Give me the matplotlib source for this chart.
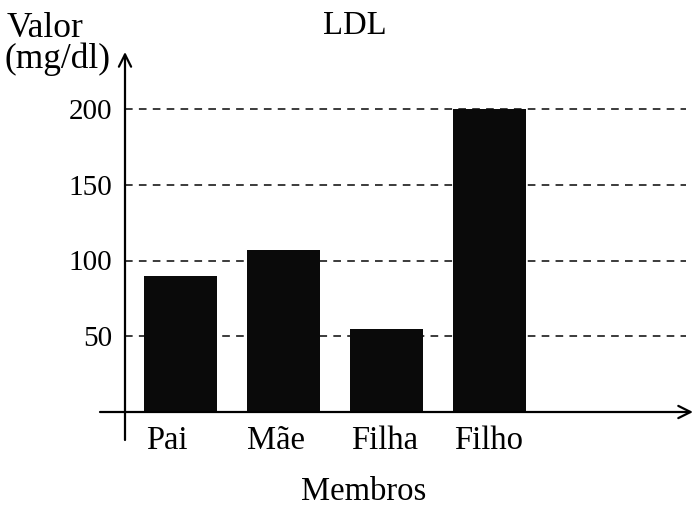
import matplotlib
matplotlib.use("Agg")
import matplotlib.pyplot as plt

categories = ["Pai", "Mãe", "Filha", "Filho"]
values = [90, 107, 55, 200]
yticks = [50, 100, 150, 200]
title = "LDL"
ylabel_lines = ["Valor", "(mg/dl)"]
xlabel = "Membros"

plt.rcParams["font.family"] = ["Liberation Serif", "DejaVu Serif"]
plt.rcParams["lines.scale_dashes"] = False

W, H = 694, 507
fig = plt.figure(figsize=(W / 100, H / 100), dpi=100)

# axes placement (pixels)
ax_left_px, ax_right_px = 125, 693
ax_bottom_px, ax_top_px = 412, 52
px_per_unit = 1.515
ax = fig.add_axes([ax_left_px / W, 1 - ax_bottom_px / H,
                   (ax_right_px - ax_left_px) / W, (ax_bottom_px - ax_top_px) / H])

px_per_cat = 103.0
first_center_px = 180.5
x0 = (ax_left_px - first_center_px) / px_per_cat
x1 = (ax_right_px - first_center_px) / px_per_cat
ymax = (ax_bottom_px - ax_top_px) / px_per_unit
ax.set_xlim(x0, x1)
ax.set_ylim(0, ymax)

pos = list(range(len(categories)))
ax.bar(pos, values, width=0.71, color="#0a0a0a", zorder=3)

# dashed gridlines
grid_end = (686 - first_center_px) / px_per_cat
ax.hlines(yticks, x0, grid_end, colors="#1a1a1a", linewidth=1.2,
          linestyles=(0, (5.5, 4.5)), zorder=1)

for s in ax.spines.values():
    s.set_visible(False)

ax.set_yticks(yticks)
ax.set_yticklabels([str(t) for t in yticks], fontsize=21)
ax.tick_params(axis="y", length=0, pad=9)

# labels in the original sit slightly left of the bar centres
label_shift = [-0.13, -0.07, -0.02, -0.01]
ax.set_xticks([p + s for p, s in zip(pos, label_shift)])
ax.set_xticklabels(categories, fontsize=23.5)
ax.tick_params(axis="x", length=0, pad=9.5)

# axis lines with arrows
ybot = -(440 - ax_bottom_px) / px_per_unit
ax.annotate("", xy=(x0, ymax), xytext=(x0, ybot), xycoords="data",
            arrowprops=dict(arrowstyle="->", lw=1.6, color="black",
                            mutation_scale=22, shrinkA=0, shrinkB=0),
            annotation_clip=False, zorder=5)
xleft = (100 - first_center_px) / px_per_cat
ax.annotate("", xy=(x1, 0), xytext=(xleft, 0), xycoords="data",
            arrowprops=dict(arrowstyle="->", lw=1.6, color="black",
                            mutation_scale=22, shrinkA=0, shrinkB=0),
            annotation_clip=False, zorder=5)

# texts
fig.text(355 / W, 1 - 34 / H, title, fontsize=23.5, ha="center", va="baseline")
fig.text(7 / W, 1 - 37 / H, ylabel_lines[0], fontsize=25.5, ha="left", va="baseline")
fig.text(4 / W, 1 - 68 / H, ylabel_lines[1], fontsize=25.5, ha="left", va="baseline")
fig.text(364 / W, 1 - 500 / H, xlabel, fontsize=23.5, ha="center", va="baseline")

fig.savefig("out.png", dpi=100)
